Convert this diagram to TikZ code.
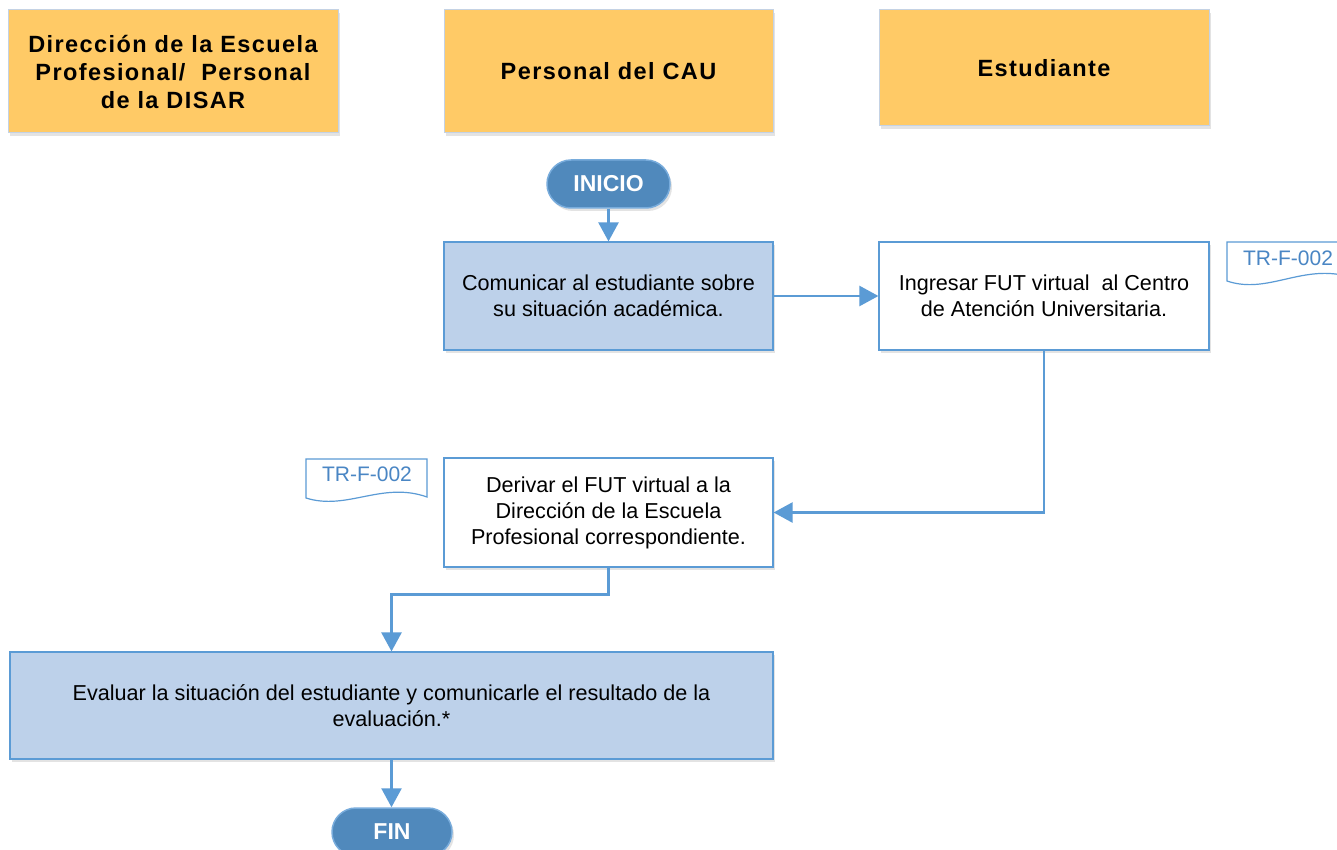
\documentclass[tikz,border=0pt]{standalone}
\usepackage{fontspec}
\setmainfont{Liberation Sans}
\usetikzlibrary{arrows.meta,calc,shadows}

\definecolor{lanefill}{RGB}{255,202,102}
\definecolor{laneline}{RGB}{196,210,228}
\definecolor{stepblue}{RGB}{189,209,234}
\definecolor{edgeblue}{RGB}{91,155,213}
\definecolor{termfill}{RGB}{80,137,188}
\definecolor{termline}{RGB}{120,172,220}
\definecolor{doctext}{RGB}{74,134,196}

\tikzset{
  x=1pt, y=-1pt,
  softshadow/.style={drop shadow={shadow xshift=2pt, shadow yshift=-3pt, opacity=0.18, fill=black!60}},
  lane/.style={draw=laneline, line width=1pt, fill=lanefill, softshadow,
    minimum width=330pt, minimum height=123pt, inner sep=0pt, align=center,
    font=\fontsize{23.5}{28}\selectfont\bfseries\addfontfeatures{LetterSpace=6}},
  terminal/.style={draw=termline, line width=1.5pt, fill=termfill, softshadow,
    rounded corners=24pt, minimum width=123pt, minimum height=48pt, inner sep=0pt,
    text=white, font=\fontsize{23}{28}\selectfont\bfseries},
  stepbox/.style={draw=edgeblue, line width=1.2pt, fill=white, softshadow,
    minimum width=329pt, minimum height=108pt, inner sep=0pt, align=center,
    font=\fontsize{21.6}{26}\selectfont},
  activebox/.style={stepbox, fill=stepblue},
  doclabel/.style={inner sep=0pt, text=doctext, font=\fontsize{21}{26}\selectfont},
  docline/.style={draw=edgeblue, line width=1.2pt, fill=white},
  flow/.style={draw=edgeblue, line width=2.5pt, -{Triangle[length=19pt,width=20pt]}},
}

\begin{document}
\begin{tikzpicture}
  \clip (0,0) rectangle (1337,850);
  \fill[white] (0,0) rectangle (1337,850);

  % swimlane headers
  \node[lane] (h1) at (173,71.5) {Dirección de la Escuela\\Profesional/~ Personal\\de la DISAR};
  \node[lane, minimum width=329pt] (h2) at (608.5,71.5) {Personal del CAU};
  \node[lane, minimum height=116pt] (h3) at (1044,68) {Estudiante};

  % process steps
  \node[terminal] (inicio) at (608.5,184) {INICIO};
  \node[activebox] (b1) at (608.5,296) {Comunicar al estudiante sobre\\su situación académica.};
  \node[stepbox, minimum width=330pt] (b2) at (1044,296) {Ingresar FUT virtual\ \ al Centro\\de Atención Universitaria.};
  \node[stepbox, minimum height=109pt] (b3) at (608.5,512.5) {Derivar el FUT virtual a la\\Dirección de la Escuela\\Profesional correspondiente.};
  \node[activebox, minimum width=763pt, minimum height=107pt] (b4) at (391.5,705.5) {Evaluar la situación del estudiante y comunicarle el resultado de la\\evaluación.*};
  \node[terminal, minimum width=120pt] (fin) at (392,832) {FIN};

  % document symbols
  \coordinate (d1) at (1288,258);
  \begin{scope}[shift={(d1)}]
    \draw[docline] (-61,23) -- (-61,-16) -- (62,-16) -- (62,19)
      .. controls (15,5) and (-20,37) .. (-61,23) -- cycle;
  \end{scope}
  \node[doclabel] (doc1) at (d1) {TR-F-002};

  \coordinate (d2) at (367,474);
  \begin{scope}[shift={(d2)}]
    \draw[docline] (-61,24) -- (-61,-15) -- (60,-15) -- (60,23)
      .. controls (15,7) and (-20,37) .. (-61,24) -- cycle;
  \end{scope}
  \node[doclabel] (doc2) at (d2) {TR-F-002};

  % connectors
  \draw[flow] (inicio.south) -- (inicio.south |- b1.north);
  \draw[flow] (b1.east) -- (b2.west);
  \draw[flow] (b2.south) |- (b3.east);
  \draw[flow] (b3.south) -- ++(0,27) -| (b4.north);
  \draw[flow] (b4.south) -- (b4.south |- fin.north);
\end{tikzpicture}
\end{document}
